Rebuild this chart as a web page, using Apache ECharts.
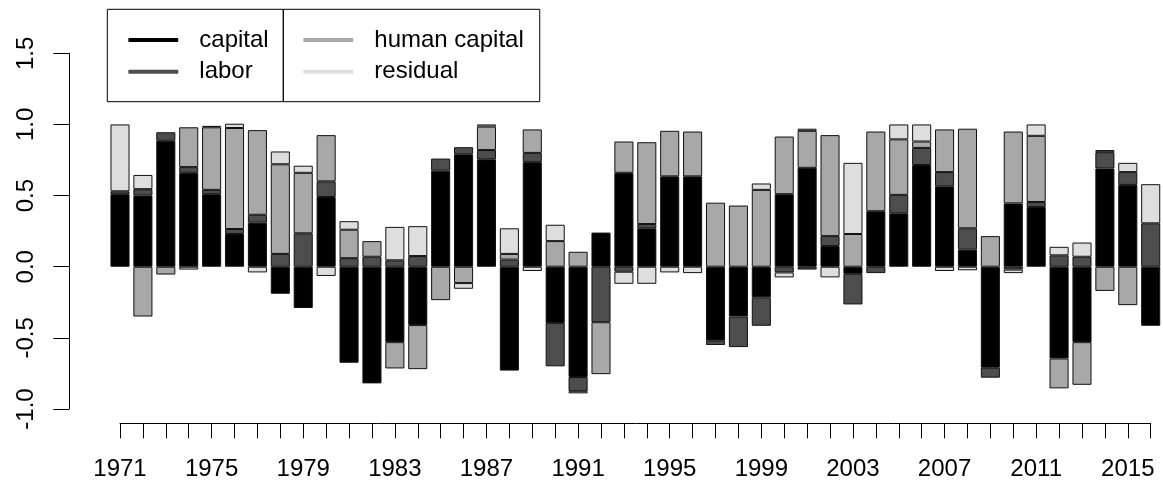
<!DOCTYPE html>
<html>
<head>
<meta charset="utf-8">
<script src="https://cdn.jsdelivr.net/npm/echarts@6/dist/echarts.min.js"></script>
<style>
  html, body { margin: 0; padding: 0; background: #fff; }
  #chart { width: 1163px; height: 486px; }
</style>
</head>
<body>
<div id="chart"></div>
<script>
// Growth decomposition shares by year (each bar's absolute parts sum to ~1)
const years = [];
for (let y = 1971; y <= 2016; y++) years.push(String(y));

const capital = [
  0.51, 0.50, 0.885, 0.66, 0.51, 0.23, 0.31, -0.19, -0.29, 0.49,
  -0.675, -0.82, -0.53, -0.41, 0.675, 0.79, 0.755, -0.73, 0.735, -0.395,
  -0.775, 0.24, 0.66, 0.27, 0.635, 0.635, -0.52, -0.35, -0.215, 0.51,
  0.695, 0.145, -0.05, 0.39, 0.375, 0.715, 0.565, 0.12, -0.71, 0.445,
  0.42, -0.645, -0.53, 0.69, 0.575, -0.415
];
const labor = [
  0.02, 0.045, 0.06, 0.04, 0.03, 0.035, 0.055, 0.09, 0.235, 0.11,
  0.06, 0.07, 0.045, 0.075, 0.085, 0.05, 0.065, 0.05, 0.065, -0.305,
  -0.10, -0.39, -0.035, 0.03, 0, 0, -0.03, -0.215, -0.20, -0.04,
  -0.02, 0.07, -0.215, -0.045, 0.13, 0.12, 0.10, 0.15, -0.07, -0.02,
  0.035, 0.08, 0.07, 0.115, 0.09, 0.305
];
const humanCapital = [
  0, -0.35, -0.055, 0.28, 0.44, 0.71, 0.595, 0.63, 0.425, 0.325,
  0.20, 0.11, -0.185, -0.31, -0.235, -0.115, 0.165, 0.04, 0.165, 0.18,
  0.105, -0.365, 0.22, 0.575, 0.32, 0.315, 0.45, 0.43, 0.54, 0.405,
  0.26, 0.71, 0.23, 0.56, 0.39, 0.045, 0.30, 0.70, 0.215, 0.505,
  0.465, -0.21, -0.30, -0.17, -0.27, 0
];
const residual = [
  0.47, 0.10, 0, -0.02, 0.01, 0.03, -0.04, 0.09, 0.05, -0.065,
  0.06, 0, 0.235, 0.21, 0, -0.04, 0.015, 0.18, -0.03, 0.115,
  -0.015, 0, -0.085, -0.12, -0.04, -0.045, 0, 0, 0.045, -0.035,
  0.015, -0.075, 0.50, 0, 0.105, 0.12, -0.03, -0.025, 0, -0.025,
  0.08, 0.06, 0.10, 0.015, 0.065, 0.275
];
const yTicks = [-1.0, -0.5, 0.0, 0.5, 1.0, 1.5];

const seriesDefs = [
  { name: 'capital', data: capital, color: '#000000' },
  { name: 'labor', data: labor, color: '#4d4d4d' },
  { name: 'human capital', data: humanCapital, color: '#a8a8a8' },
  { name: 'residual', data: residual, color: '#dedede' }
];

const FONT = '"Liberation Sans", Arial, sans-serif';
const chart = echarts.init(document.getElementById('chart'), null, { renderer: 'canvas' });

const legendBase = {
  orient: 'vertical',
  top: 9.3,
  itemWidth: 50,
  itemHeight: 4,
  itemGap: 7.7,
  icon: 'roundRect',
  selectedMode: false,
  borderColor: '#000',
  borderWidth: 1,
  borderRadius: 0,
  itemStyle: { borderWidth: 0 },
  textStyle: { fontFamily: FONT, fontSize: 24, lineHeight: 24, color: '#000', padding: [0, 0, 0, 16] }
};

chart.setOption({
  animation: false,
  backgroundColor: '#fff',
  grid: { left: 120, right: 12.3, top: 53.3, bottom: 77, containLabel: false },
  legend: [
    Object.assign({}, legendBase, { data: ['capital', 'labor'], left: 107.3, padding: [18.7, 14.6, 18, 21] }),
    Object.assign({}, legendBase, { data: ['human capital', 'residual'], left: 283.3, padding: [18.7, 16, 18, 20] })
  ],
  xAxis: {
    type: 'category',
    data: years,
    boundaryGap: false,
    offset: 14.3,
    axisLine: { onZero: false, lineStyle: { color: '#000', width: 1 } },
    axisTick: { show: true, interval: 0, length: 15, lineStyle: { color: '#000', width: 1 } },
    axisLabel: { interval: 3, margin: 34, fontFamily: FONT, fontSize: 24, color: '#000' },
    splitLine: { show: false }
  },
  yAxis: {
    type: 'value',
    min: yTicks[0],
    max: yTicks[yTicks.length - 1],
    interval: 0.5,
    offset: 51,
    axisLine: { show: true, lineStyle: { color: '#000', width: 1 } },
    axisTick: { show: true, length: 15.7, lineStyle: { color: '#000', width: 1 } },
    axisLabel: {
      rotate: 90, margin: 31, fontFamily: FONT, fontSize: 24, color: '#000',
      formatter: v => v.toFixed(1)
    },
    splitLine: { show: false }
  },
  series: seriesDefs.map(s => ({
    name: s.name,
    type: 'bar',
    stack: 'total',
    clip: false,
    barWidth: '83.3%',
    data: s.data.map(v => (v === 0 ? null : v)),
    itemStyle: { color: s.color, borderColor: '#111', borderWidth: 1 },
    emphasis: { disabled: true }
  }))
});
</script>
</body>
</html>
